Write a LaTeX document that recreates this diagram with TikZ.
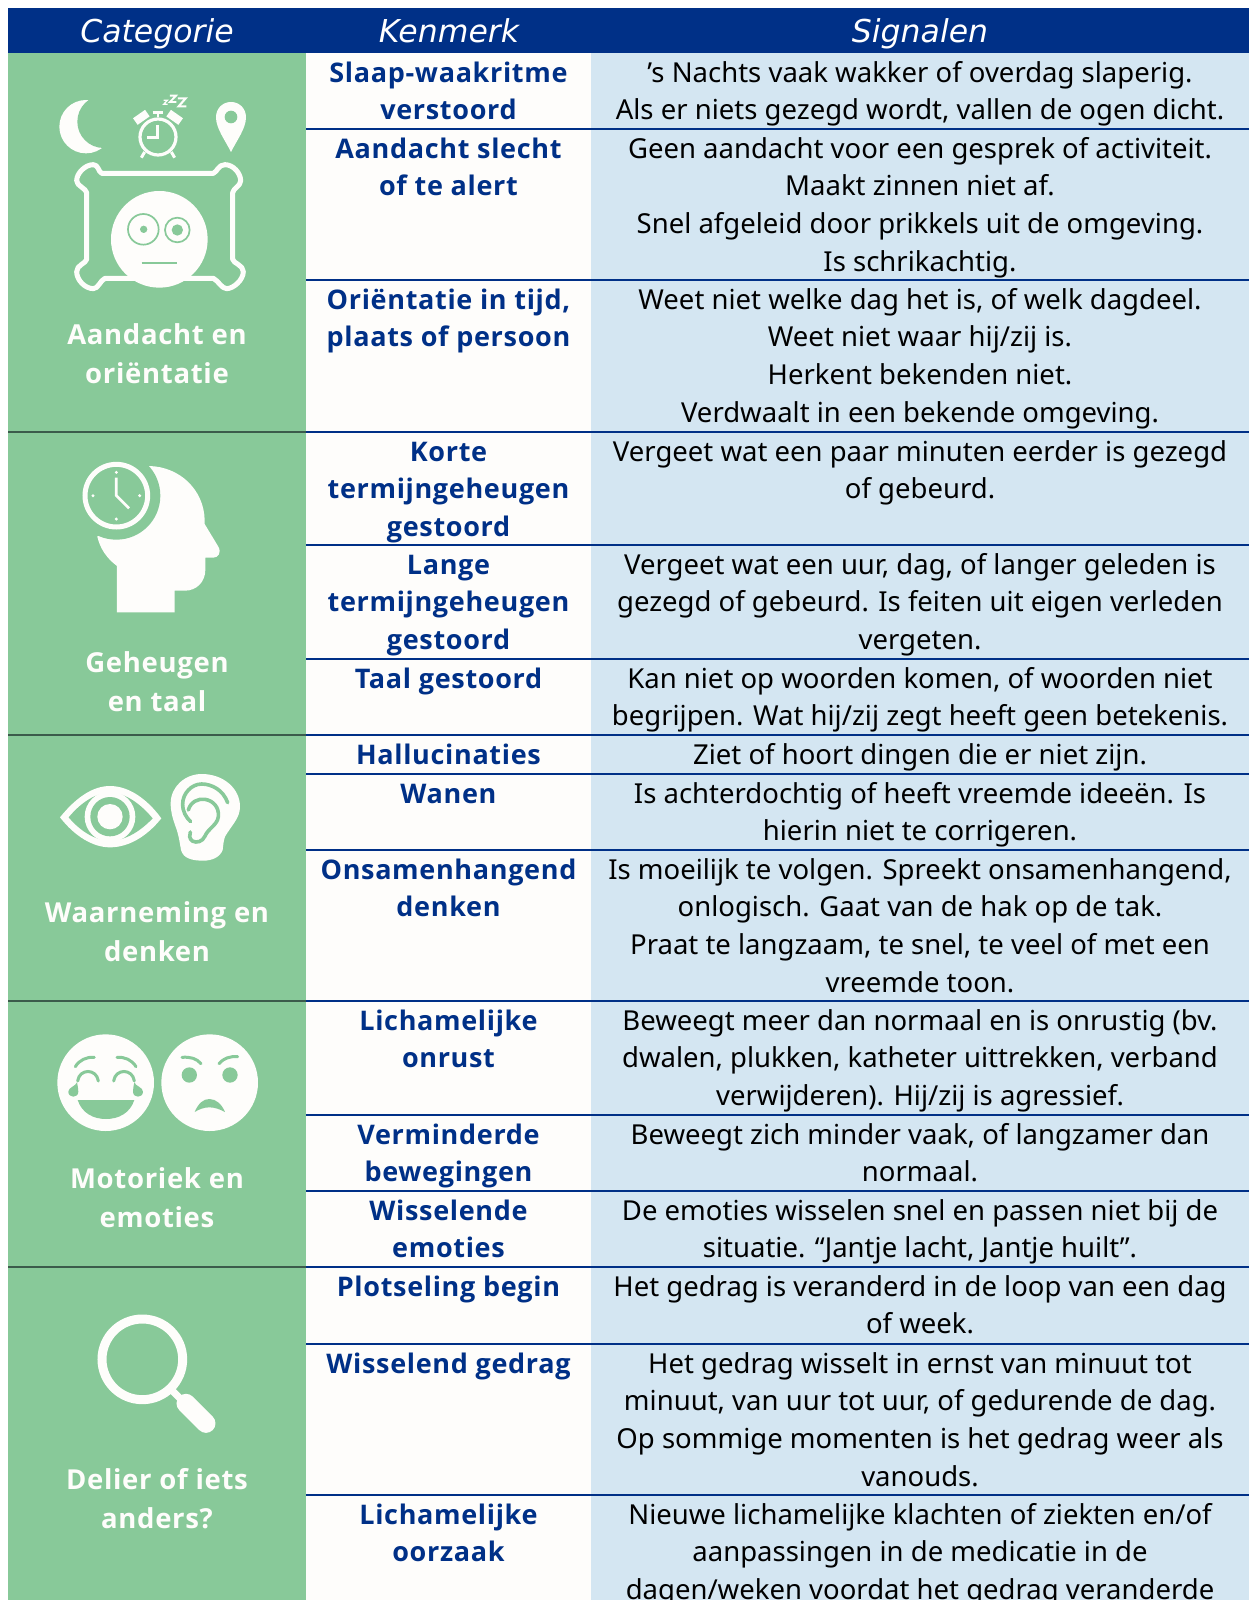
\documentclass[tikz,border=0pt]{standalone}
\usepackage{fontspec}
\setmainfont{Noto Sans}
\newfontfamily\boldfam{Open Sans}[LetterSpace=2.5]
\newfontfamily\headfam{DejaVu Sans}
\newcommand\fl{\rule{0pt}{29pt}}
\newcommand\fc{\rule{0pt}{27pt}}
\definecolor{navy}{HTML}{003087}
\definecolor{leaf}{HTML}{88C999}
\definecolor{pale}{HTML}{D4E6F2}
\definecolor{paper}{HTML}{FEFDFB}
\definecolor{seam}{HTML}{3B5B4B}
\tikzset{
 hdr/.style={anchor=base,inner sep=0,text=white,font=\headfam\fontsize{31.5}{39}\selectfont\itshape},
 cat/.style={anchor=north,inner sep=0,align=center,text=paper,font=\boldfam\fontsize{27.5}{39}\selectfont\bfseries},
 ken/.style={anchor=north,inner sep=0,align=center,text=navy,font=\boldfam\fontsize{27}{37.7}\selectfont\bfseries},
 sig/.style={anchor=north,inner sep=0,align=center,text=black,font=\fontsize{27.5}{37.7}\selectfont},
 rulen/.style={draw=navy,line width=2pt},
 ruleg/.style={draw=seam,line width=2pt},
 zoomed/.style={x=0.33333pt,y=-0.33333pt},
}
\begin{document}
\begin{tikzpicture}[x=1pt,y=-1pt]
\useasboundingbox (0,0) rectangle (1249,1600);
\clip (0,0) rectangle (1249,1600);
\fill[white] (0,0) rectangle (1249,1600);
\fill[leaf] (8,53) rectangle (306,1600);
\fill[paper] (306,53) rectangle (591,1600);
\fill[pale] (591,53) rectangle (1249,1600);
\fill[navy] (8,8) rectangle (1249,53);
% rules
\foreach \yy in {432,735,1001,1267}{\draw[ruleg] (8,\yy) -- (306,\yy);}
\foreach \yy in {129,280,432,545,659,735,774,850,1001,1115,1191,1267,1344,1495}{\draw[rulen] (306,\yy) -- (1249,\yy);}
% header
\node[hdr] (h1) at (157,43) {Categorie};
\node[hdr] (h2) at (449,43) {Kenmerk};
\node[hdr] (h3) at (920,43) {Signalen};
% category labels
\node[cat] (c1) at (157,317) {\fc Aandacht en\\oriëntatie};
\node[cat] (c2) at (157,645) {\fc Geheugen\\en taal};
\node[cat] (c3) at (157,895) {\fc Waarneming en\\denken};
\node[cat] (c4) at (157,1161) {\fc Motoriek en\\emoties};
\node[cat] (c5) at (157,1462) {\fc Delier of iets\\anders?};
% kenmerk
\node[ken] (k1) at (448.5,53) {\fl Slaap-waakritme\\verstoord};
\node[ken] (k2) at (448.5,129) {\fl Aandacht slecht\\of te alert};
\node[ken] (k3) at (448.5,280) {\fl Oriëntatie in tijd,\\plaats of persoon};
\node[ken] (k4) at (448.5,432) {\fl Korte\\termijngeheugen\\gestoord};
\node[ken] (k5) at (448.5,545) {\fl Lange\\termijngeheugen\\gestoord};
\node[ken] (k6) at (448.5,659) {\fl Taal gestoord};
\node[ken] (k7) at (448.5,735) {\fl Hallucinaties};
\node[ken] (k8) at (448.5,774) {\fl Wanen};
\node[ken] (k9) at (448.5,850) {\fl Onsamenhangend\\denken};
\node[ken] (k10) at (448.5,1001) {\fl Lichamelijke\\onrust};
\node[ken] (k11) at (448.5,1115) {\fl Verminderde\\bewegingen};
\node[ken] (k12) at (448.5,1191) {\fl Wisselende\\emoties};
\node[ken] (k13) at (448.5,1267) {\fl Plotseling begin};
\node[ken] (k14) at (448.5,1344) {\fl Wisselend gedrag};
\node[ken] (k15) at (448.5,1495) {\fl Lichamelijke\\oorzaak};
% signalen
\node[sig] (s1) at (920,53) {\fl ’s Nachts vaak wakker of overdag slaperig.\\Als er niets gezegd wordt, vallen de ogen dicht.};
\node[sig] (s2) at (920,129) {\fl Geen aandacht voor een gesprek of activiteit.\\Maakt zinnen niet af.\\Snel afgeleid door prikkels uit de omgeving.\\Is schrikachtig.};
\node[sig] (s3) at (920,280) {\fl Weet niet welke dag het is, of welk dagdeel.\\Weet niet waar hij/zij is.\\Herkent bekenden niet.\\Verdwaalt in een bekende omgeving.};
\node[sig] (s4) at (920,432) {\fl Vergeet wat een paar minuten eerder is gezegd\\of gebeurd.};
\node[sig] (s5) at (920,545) {\fl Vergeet wat een uur, dag, of langer geleden is\\gezegd of gebeurd. Is feiten uit eigen verleden\\vergeten.};
\node[sig] (s6) at (920,659) {\fl Kan niet op woorden komen, of woorden niet\\begrijpen. Wat hij/zij zegt heeft geen betekenis.};
\node[sig] (s7) at (920,735) {\fl Ziet of hoort dingen die er niet zijn.};
\node[sig] (s8) at (920,774) {\fl Is achterdochtig of heeft vreemde ideeën. Is\\hierin niet te corrigeren.};
\node[sig] (s9) at (920,850) {\fl Is moeilijk te volgen. Spreekt onsamenhangend,\\onlogisch. Gaat van de hak op de tak.\\Praat te langzaam, te snel, te veel of met een\\vreemde toon.};
\node[sig] (s10) at (920,1001) {\fl Beweegt meer dan normaal en is onrustig (bv.\\dwalen, plukken, katheter uittrekken, verband\\verwijderen). Hij/zij is agressief.};
\node[sig] (s11) at (920,1115) {\fl Beweegt zich minder vaak, of langzamer dan\\normaal.};
\node[sig] (s12) at (920,1191) {\fl De emoties wisselen snel en passen niet bij de\\situatie. “Jantje lacht, Jantje huilt”.};
\node[sig] (s13) at (920,1267) {\fl Het gedrag is veranderd in de loop van een dag\\of week.};
\node[sig] (s14) at (920,1344) {\fl Het gedrag wisselt in ernst van minuut tot\\minuut, van uur tot uur, of gedurende de dag.\\Op sommige momenten is het gedrag weer als\\vanouds.};
\node[sig] (s15) at (920,1495) {\fl Nieuwe lichamelijke klachten of ziekten en/of\\aanpassingen in de medicatie in de\\dagen/weken voordat het gedrag veranderde};
% icon 1: moon, clock, pin, pillow, face
\begin{scope}[zoomed]
\fill[paper] (258,380) circle (80);
\fill[leaf] (311,365) circle (79);
% clock
\draw[paper,line width=3.2pt] (474,411) circle (54);
\draw[paper,line width=2.6pt] (472,375) -- (472,412) -- (442,412);
\draw[paper,line width=2.6pt] (474,352) -- (474,337) (458,337) -- (490,337);
\draw[paper,line width=3pt] (434,456) -- (424,473) (514,456) -- (524,473);
\fill[paper,rotate around={35:(424,352)}] (402,340) rectangle (446,364);
\fill[paper,rotate around={-35:(524,352)}] (502,340) rectangle (546,364);
\draw[paper,line width=1.3pt] (491,301) -- (502,301) -- (491,313) -- (503,313);
\draw[paper,line width=1.9pt] (510,287) -- (528,287) -- (510,306) -- (529,306);
\draw[paper,line width=2.1pt] (534,295) -- (557,295) -- (536,319) -- (559,319);
% pin
\fill[paper] (693,456) .. controls (675,420) and (648,385) .. (648,352) .. controls (648,325) and (668,306) .. (693,306) .. controls (718,306) and (738,325) .. (738,352) .. controls (738,385) and (711,420) .. (693,456) -- cycle;
\fill[leaf] (693,351) circle (19);
% pillow
\draw[paper,line width=5pt,line join=round] (305,520) -- (640,520) .. controls (652,515) and (655,494) .. (675,494) .. controls (700,494) and (722,520) .. (722,542) .. controls (722,558) and (700,565) .. (698,578) -- (698,778) .. controls (700,790) and (730,795) .. (730,815) .. controls (730,840) and (700,866) .. (680,866) .. controls (665,866) and (655,842) .. (640,835) -- (315,835) .. controls (300,842) and (295,866) .. (280,866) .. controls (255,866) and (230,840) .. (230,815) .. controls (230,795) and (258,790) .. (260,778) -- (260,578) .. controls (258,565) and (230,558) .. (230,542) .. controls (230,520) and (255,494) .. (280,494) .. controls (295,494) and (295,515) .. (305,520) -- cycle;
\fill[paper] (478,718) circle (145);
\draw[leaf,line width=1.7pt] (430,688) circle (46);
\fill[leaf] (431,688) circle (11);
\draw[leaf,line width=1.7pt] (532,690) circle (37);
\fill[leaf] (532,690) circle (17);
\draw[leaf,line width=2pt] (425,790) -- (531,790);
\end{scope}
% icon 2: head with clock
\begin{scope}[shift={(0,430)},zoomed]
\fill[paper] (447,108) .. controls (540,110) and (612,180) .. (614,270) -- (614,282) -- (655,350) .. controls (665,368) and (655,383) .. (640,383) -- (616,383) -- (616,420) .. controls (616,455) and (590,482) .. (555,482) -- (524,482) -- (524,547) -- (351,547) -- (351,408) .. controls (320,385) and (300,355) .. (292,320) -- cycle;
\fill[leaf] (349,197) circle (132);
\draw[paper,line width=5pt] (349,197) circle (94);
\foreach \cx/\cy in {349/127,349/267,279/197,419/197}{\fill[paper] (\cx,\cy) circle (5);}
\draw[paper,line width=2.7pt] (349,143) -- (349,197) -- (387,235);
\end{scope}
% icon 3: eye
\begin{scope}[shift={(0,740)},zoomed]
\fill[paper] (180,232) .. controls (230,170) and (280,138) .. (330,138) .. controls (385,138) and (440,175) .. (484,235) .. controls (440,290) and (385,322) .. (330,322) .. controls (280,322) and (225,290) .. (180,232) -- cycle;
\fill[leaf] (206,232) .. controls (245,185) and (290,158) .. (330,158) .. controls (375,158) and (420,190) .. (458,235) .. controls (420,275) and (375,302) .. (330,302) .. controls (290,302) and (245,278) .. (206,232) -- cycle;
\fill[paper] (330,230) circle (76);
\fill[leaf] (330,230) circle (59);
\fill[paper] (330,230) circle (38);
\end{scope}
% icon 3: ear
\begin{scope}[shift={(160,760)},zoomed]
\fill[paper] (125,42) .. controls (190,42) and (240,85) .. (240,140) .. controls (240,175) and (215,195) .. (195,230) .. controls (190,245) and (190,255) .. (188,270) .. controls (180,292) and (155,302) .. (130,302) .. controls (95,302) and (70,295) .. (63,270) .. controls (58,240) and (55,220) .. (45,195) .. controls (38,175) and (32,155) .. (32,130) .. controls (32,80) and (75,42) .. (125,42) -- cycle;
\draw[leaf,line width=3.6pt,line cap=round] (203,128) .. controls (190,90) and (155,72) .. (125,72) .. controls (95,72) and (68,100) .. (68,132) .. controls (68,155) and (78,172) .. (92,185);
\draw[leaf,line width=3.6pt,line cap=round] (85,150) .. controls (92,125) and (115,115) .. (135,118) .. controls (160,122) and (178,142) .. (175,170) .. controls (172,195) and (145,205) .. (135,228) .. controls (128,245) and (110,250) .. (97,243) .. controls (88,236) and (87,225) .. (91,216);
\end{scope}
% icon 4: faces
\begin{scope}[shift={(0,1000)},zoomed]
\fill[paper] (317,248) circle (145);
\draw[leaf,line width=3pt,line cap=round] (226,200) .. controls (238,180) and (260,170) .. (283,172);
\draw[leaf,line width=3pt,line cap=round] (408,200) .. controls (396,180) and (374,170) .. (351,172);
\draw[leaf,line width=3pt,line cap=round] (233,243) .. controls (238,205) and (290,205) .. (295,243);
\draw[leaf,line width=3pt,line cap=round] (341,243) .. controls (346,205) and (398,205) .. (403,243);
\fill[leaf] (231,247) .. controls (228,258) and (205,262) .. (205,275) .. controls (205,295) and (235,295) .. (235,275) .. controls (235,265) and (233,258) .. (231,247) -- cycle;
\fill[leaf] (403,247) .. controls (406,258) and (429,262) .. (429,275) .. controls (429,295) and (399,295) .. (399,275) .. controls (399,265) and (401,258) .. (403,247) -- cycle;
\fill[leaf] (233,300) -- (403,300) .. controls (390,340) and (355,357) .. (318,357) .. controls (281,357) and (246,340) .. (233,300) -- cycle;
\fill[paper] (629,248) circle (145);
\draw[leaf,line width=3pt,line cap=round] (546,172) .. controls (570,170) and (590,175) .. (603,191);
\draw[leaf,line width=3pt,line cap=round] (713,170) .. controls (690,168) and (670,175) .. (657,191);
\fill[leaf] (568,225) circle (23);
\fill[leaf] (690,225) circle (23);
\fill[leaf] (584,336) .. controls (595,310) and (610,297) .. (628,297) .. controls (648,297) and (665,312) .. (675,336) .. controls (660,328) and (645,322) .. (628,322) .. controls (612,322) and (597,328) .. (584,336) -- cycle;
\end{scope}
% icon 5: magnifier
\begin{scope}[shift={(0,1260)},zoomed]
\draw[paper,line width=9pt] (427,298) circle (121);
\draw[paper,line width=7pt] (515,390) -- (560,435);
\draw[paper,line width=19pt,line cap=round] (558,430) -- (618,490);
\end{scope}
\end{tikzpicture}
\end{document}
